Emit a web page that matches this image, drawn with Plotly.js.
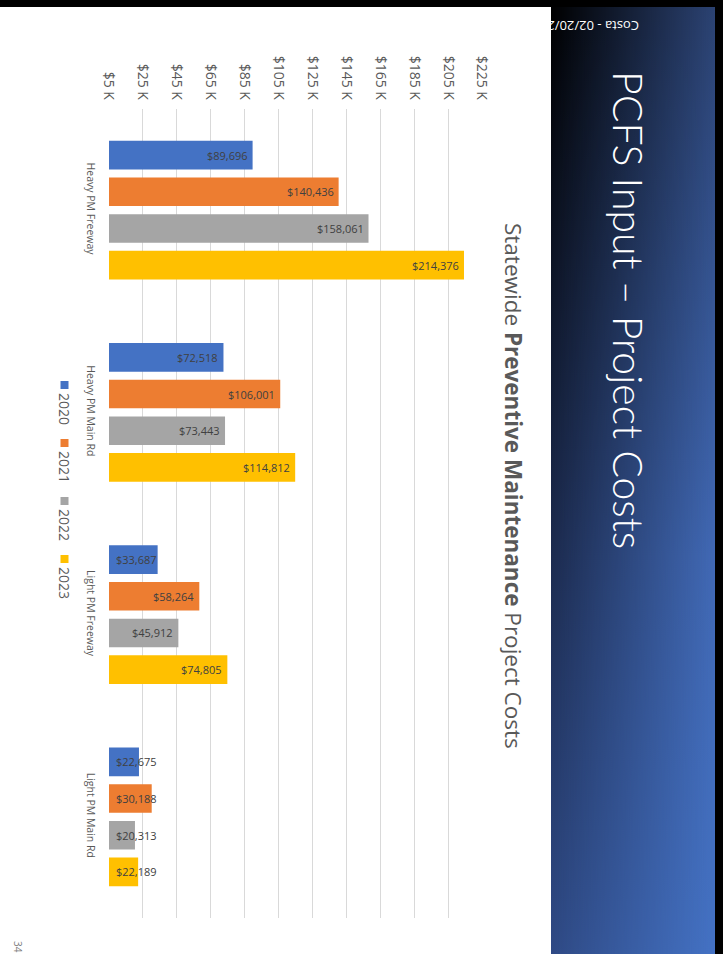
<!DOCTYPE html>
<html>
<head>
<meta charset="utf-8">
<script src="https://cdn.plot.ly/plotly-3.0.1.min.js"></script>
<style>
  html, body { margin:0; padding:0; background:#ffffff; }
  #wrap { position:relative; width:723px; height:954px; overflow:hidden; background:#ffffff; }
  #topband { position:absolute; left:0; top:0; width:723px; height:7px; background:#000; }
  #rightband { position:absolute; left:715px; top:0; width:8px; height:954px; background:#000; }
  .panel { position:absolute; left:551px; top:7px; width:164px; height:947px; }
  #panelLeft { background: linear-gradient(to bottom, #000000 0%, #1c2b4f 58%, #2f4a85 100%); }
  #panelRight { background: linear-gradient(to bottom, #2b4272 0%, #4169b5 58%, #4472C4 100%);
    -webkit-mask-image: linear-gradient(to right, rgba(0,0,0,0) 0%, rgba(0,0,0,1) 100%);
    mask-image: linear-gradient(to right, rgba(0,0,0,0) 0%, rgba(0,0,0,1) 100%); }
  #chart { position:absolute; left:0; top:0; width:723px; height:954px; }
</style>
</head>
<body>
<div id="wrap">
  <div id="topband"></div>
  <div id="rightband"></div>
  <div id="panelLeft" class="panel"></div>
  <div id="panelRight" class="panel"></div>
  <div id="chart"></div>
</div>
<script>
// ---- data ----
const categories = ['Heavy PM Freeway', 'Heavy PM Main Rd', 'Light PM Freeway', 'Light PM Main Rd'];
const seriesNames = ['2020', '2021', '2022', '2023'];
const values2020 = [89696, 72518, 33687, 22675];
const values2021 = [140436, 106001, 58264, 30188];
const values2022 = [158061, 73443, 45912, 20313];
const values2023 = [214376, 114812, 74805, 22189];
const seriesColors = ['#4472C4', '#ED7D31', '#A5A5A5', '#FFC000'];
const tickValues = [5000, 25000, 45000, 65000, 85000, 105000, 125000, 145000, 165000, 185000, 205000, 225000];
const tickLabels = ['$5 K', '$25 K', '$45 K', '$65 K', '$85 K', '$105 K', '$125 K', '$145 K', '$165 K', '$185 K', '$205 K', '$225 K'];
const slideTitle = 'PCFS Input – Project Costs';
const chartTitle = 'Statewide <b>Preventive Maintenance</b> Project Costs';
const footerText = 'Costa - 02/20/20';
const pageNumber = '34';

const allValues = [values2020, values2021, values2022, values2023];
const FONT = 'Open Sans, Liberation Sans, sans-serif';
const X_MIN = 5000, X_MAX = 225000;
const BARGAP = 0.274, BARGROUPGAP = 0.218;

const traces = allValues.map((vals, i) => ({
  type: 'bar',
  orientation: 'h',
  name: seriesNames[i],
  y: categories,
  x: vals,
  marker: { color: seriesColors[i], line: { width: 0 } },
  hoverinfo: 'skip'
}));

// plot area in pixels: x 109..482, y 109..918
const L = 109, R = 482, T = 109, B = 918;
const px = X => (X - L) / (R - L);
const py = Y => (B - Y) / (B - T);

const annotations = [];
const shapes = [];

// value labels (Excel "inside end"; moved to the bar start when they do not fit)
const band = (B - T) / categories.length;
const slot = band * (1 - BARGAP) / allValues.length;
allValues.forEach((vals, i) => {
  vals.forEach((v, j) => {
    const barPx = (v - X_MIN) / (X_MAX - X_MIN) * (R - L);
    const fits = barPx >= 52;
    annotations.push({
      xref: 'x', yref: 'y', x: fits ? v : X_MIN, y: categories[j],
      xanchor: fits ? 'right' : 'left', yanchor: 'middle',
      xshift: fits ? -3 : 5, yshift: (1.5 - i) * slot,
      text: '$' + v.toLocaleString('en-US'), showarrow: false,
      font: { family: FONT, size: 11, color: '#404040' }
    });
  });
});

// legend (rotated)
const legendY = [381, 439, 497, 555];
seriesNames.forEach((n, i) => {
  shapes.push({ type: 'rect', xref: 'paper', yref: 'paper',
    x0: px(60.5), x1: px(68.5), y0: py(legendY[i]), y1: py(legendY[i] + 8),
    fillcolor: seriesColors[i], line: { width: 0 } });
  annotations.push({ xref: 'paper', yref: 'paper', x: px(65), y: py(legendY[i] + 10),
    xanchor: 'center', yanchor: 'top', text: n, textangle: 90, showarrow: false,
    font: { family: FONT, size: 14, color: '#595959' } });
});

// chart title
annotations.push({ xref: 'paper', yref: 'paper', x: px(514), y: py(486),
  xanchor: 'center', yanchor: 'middle', text: chartTitle, textangle: 90, showarrow: false,
  font: { family: FONT, size: 22.5, color: '#595959' } });

// slide title
annotations.push({ xref: 'paper', yref: 'paper', x: px(629), y: py(310),
  xanchor: 'center', yanchor: 'middle', text: slideTitle, textangle: 90, showarrow: false,
  font: { family: 'Lato, Open Sans, sans-serif', size: 41, color: '#ffffff', weight: 300 } });

// footer text (upside down, its end hidden on the white area)
annotations.push({ xref: 'paper', yref: 'paper', x: px(641), y: py(26),
  xanchor: 'right', yanchor: 'middle', text: footerText, textangle: 180, showarrow: false,
  font: { family: FONT, size: 13, color: '#ffffff' } });

// page number
annotations.push({ xref: 'paper', yref: 'paper', x: px(18), y: py(939),
  xanchor: 'center', yanchor: 'top', text: pageNumber, textangle: 90, showarrow: false,
  font: { family: FONT, size: 10, color: '#7f7f7f' } });

const layout = {
  width: 723, height: 954,
  margin: { l: L, r: 723 - R, t: T, b: 954 - B, pad: 0 },
  paper_bgcolor: 'rgba(0,0,0,0)',
  plot_bgcolor: 'rgba(0,0,0,0)',
  showlegend: false,
  barmode: 'group',
  bargap: BARGAP,
  bargroupgap: BARGROUPGAP,
  font: { family: FONT, color: '#595959' },
  xaxis: {
    side: 'top', range: [X_MIN, X_MAX], tickvals: tickValues, ticktext: tickLabels,
    tickangle: 90, showgrid: true, gridcolor: '#d9d9d9', gridwidth: 1, zeroline: false,
    showline: false, ticks: '', ticklabelstandoff: 6,
    tickfont: { family: FONT, size: 14, color: '#595959' },
    fixedrange: true
  },
  yaxis: {
    type: 'category', autorange: 'reversed', showgrid: false, zeroline: false, showline: false,
    ticks: '', tickangle: 90, ticklabelstandoff: 10,
    tickfont: { family: FONT, size: 10.5, color: '#595959' },
    fixedrange: true
  },
  annotations: annotations,
  shapes: shapes
};

Plotly.newPlot('chart', traces, layout, { staticPlot: true, displayModeBar: false });
</script>
</body>
</html>
